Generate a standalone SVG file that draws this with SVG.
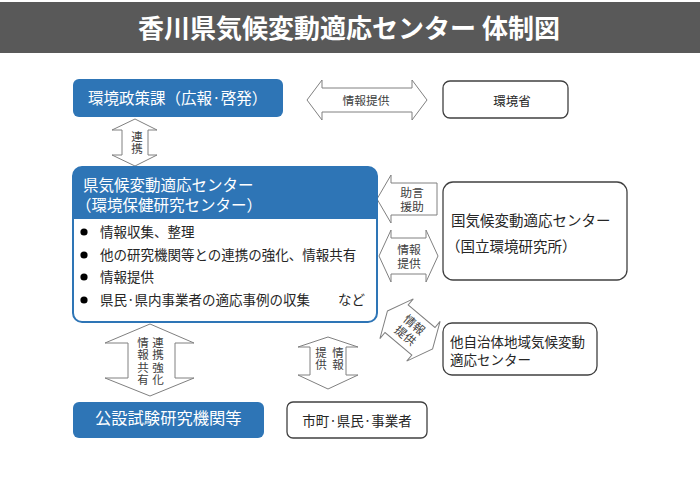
<svg xmlns="http://www.w3.org/2000/svg" width="700" height="484" viewBox="0 0 700 484">
<style>
text{font-family:"Noto Sans CJK JP","Noto Sans CJK SC",sans-serif;}
.blue{fill:#2E75B6;}
.wt{fill:#ffffff;}
.bx{fill:#ffffff;stroke:#404040;stroke-width:1.3;}
.arr{fill:#ffffff;stroke:#808080;stroke-width:1;}
.t{fill:#262626;}
.lf{font-family:"Liberation Sans","Noto Sans CJK JP",sans-serif;}
.at{fill:#404040;font-size:11.8px;font-family:"Liberation Sans","Noto Sans CJK JP",sans-serif;}
.vt{fill:#404040;font-size:11.5px;letter-spacing:0.8px;writing-mode:vertical-rl;font-family:"Liberation Sans","Noto Sans CJK JP",sans-serif;}
</style>
<rect x="0" y="0" width="700" height="484" fill="#ffffff"/>
<g id="title">
<rect x="0" y="2" width="700" height="51" fill="#595959"/>
<text x="349" y="38" text-anchor="middle" font-size="26" font-weight="bold" fill="#ffffff">香川県気候変動適応センター 体制図</text>
</g>
<g id="connectors">
<path class="arr" d="M307 100 L322 80 L322 88 L412 88 L412 80 L427 100 L412 120 L412 112 L322 112 L322 120 Z"/>
<text class="at" x="366" y="105" text-anchor="middle">情報提供</text>
<path class="arr" d="M135 119 L157 130 L148 130 L148 155 L157 155 L135 166 L112 155 L122 155 L122 130 L112 130 Z"/>
<text class="vt" x="136" y="131">連携</text>
<path class="arr" d="M377 199 L391 175 L391 183 L437 183 L437 215 L391 215 L391 223 Z"/>
<text class="at" text-anchor="middle"><tspan x="412" y="196.5">助言</tspan><tspan x="412" y="210.5">援助</tspan></text>
<path class="arr" d="M379 256 L391 230 L391 238 L426 238 L426 230 L438 256 L426 282 L426 274 L391 274 L391 282 Z"/>
<text class="at" text-anchor="middle"><tspan x="409" y="253.5">情報</tspan><tspan x="409" y="267.5">提供</tspan></text>
<g transform="translate(410 330) rotate(40)">
<path class="arr" d="M-29.5 0 L-17.5 -26 L-17.5 -18 L17.5 -18 L17.5 -26 L29.5 0 L17.5 26 L17.5 18 L-17.5 18 L-17.5 26 Z"/>
<text class="at" text-anchor="middle"><tspan x="0" y="-2.5">情報</tspan><tspan x="0" y="11.5">提供</tspan></text>
</g>
<path class="arr" d="M150 324 L194 343 L175 343 L175 378 L194 378 L150 396 L105 378 L128 378 L128 343 L105 343 Z"/>
<text class="vt" x="157" y="337">連携強化</text>
<text class="vt" x="142" y="337">情報共有</text>
<path class="arr" d="M328 337 L358 347 L346 347 L346 375 L358 375 L328 389 L298 375 L310 375 L310 347 L298 347 Z"/>
<text class="vt" x="337" y="347">情報</text>
<text class="vt" x="320" y="347">提供</text>
</g>
<g id="kankyo-seisaku">
<rect class="blue" x="73" y="79" width="210" height="38" rx="6"/>
<text class="wt" x="88" y="104" font-size="15.5">環境政策課（広報·啓発）</text>
</g>
<g id="kankyosho">
<rect class="bx" x="443" y="81" width="125" height="37" rx="7"/>
<text class="t" x="512" y="106" text-anchor="middle" font-size="12.5">環境省</text>
</g>
<g id="center">
<rect x="73" y="167" width="304" height="155" rx="9" fill="#ffffff" stroke="#2E75B6" stroke-width="2"/>
<path class="blue" d="M73 219 L73 176 A9 9 0 0 1 82 167 L368 167 A9 9 0 0 1 377 176 L377 219 Z"/>
<text class="wt" font-size="15.5"><tspan x="83" y="191">県気候変動適応センター</tspan><tspan x="76" y="211">（環境保健研究センター）</tspan></text>
<g class="t" font-size="13.5">
<circle cx="84" cy="232" r="3.6" fill="#000"/>
<circle cx="84" cy="255" r="3.6" fill="#000"/>
<circle cx="84" cy="277" r="3.6" fill="#000"/>
<circle cx="84" cy="300" r="3.6" fill="#000"/>
<text x="100" y="237">情報収集、整理</text>
<text x="100" y="260">他の研究機関等との連携の強化、情報共有</text>
<text x="100" y="282">情報提供</text>
<text x="100" y="305">県民·県内事業者の適応事例の収集</text>
<text x="338" y="305">など</text>
</g>
</g>
<g id="kuni">
<rect class="bx" x="443" y="182" width="184" height="98" rx="10"/>
<text class="t" font-size="14.5"><tspan x="451" y="226">国気候変動適応センター</tspan><tspan x="446" y="252">（国立環境研究所）</tspan></text>
</g>
<g id="tajichitai">
<rect class="bx" x="443" y="323" width="154" height="52" rx="9"/>
<text class="t lf" font-size="13.5"><tspan x="450" y="347">他自治体地域気候変動</tspan><tspan x="450" y="365">適応センター</tspan></text>
</g>
<g id="kousetsu">
<rect class="blue" x="73" y="402" width="191" height="36" rx="6"/>
<text class="wt" x="95" y="424" font-size="16.3">公設試験研究機関等</text>
</g>
<g id="shimachi">
<rect class="bx" x="287" y="402" width="140" height="36" rx="6"/>
<text class="t" x="357" y="426" text-anchor="middle" font-size="13.5">市町·県民·事業者</text>
</g>
</svg>
